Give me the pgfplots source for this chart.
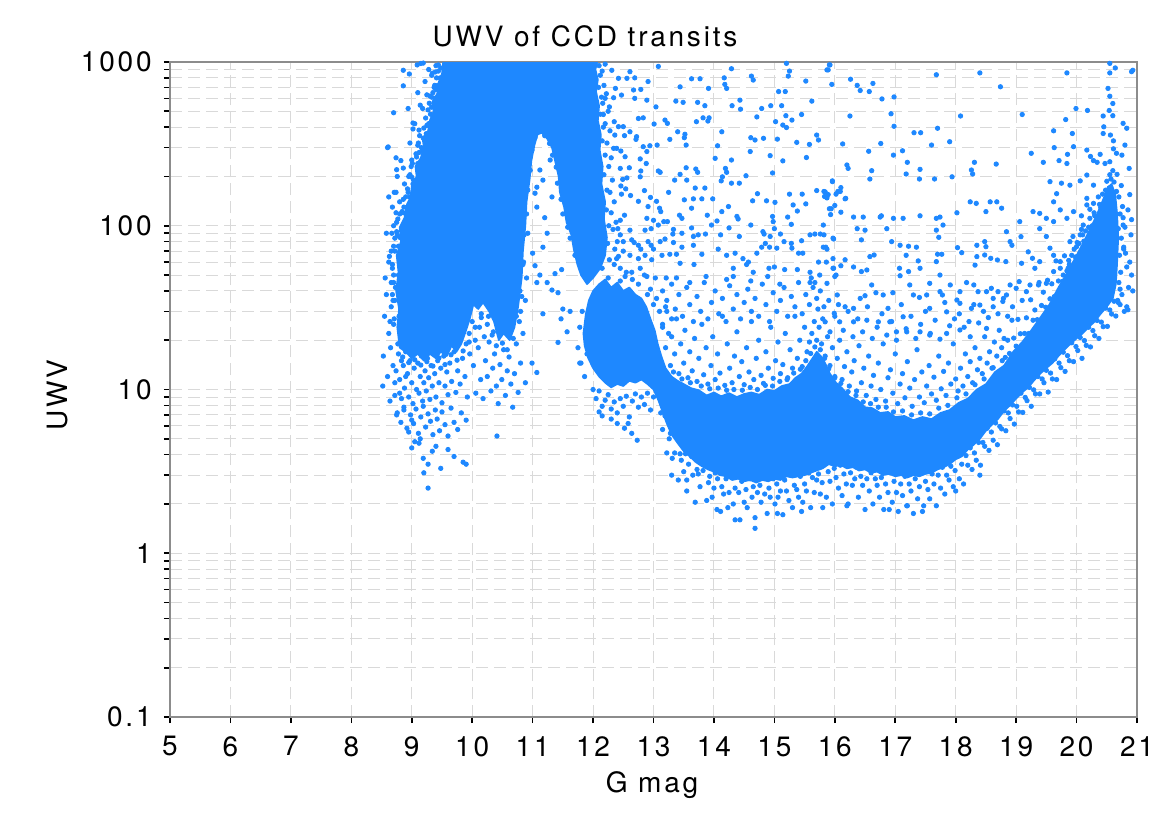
\documentclass[border=0pt]{standalone}
\usepackage{fontspec}
\setmainfont{TeX Gyre Heros}[LetterSpace=10]
\usepackage{pgfplots}
\pgfplotsset{compat=1.18}
\definecolor{ptblue}{RGB}{30,136,255}
\begin{document}
\begin{tikzpicture}
\begin{axis}[
  scale only axis, width=483.5pt, height=327.5pt,
  xmin=5, xmax=21, ymode=log, ymin=0.1, ymax=1000,
  xtick={5,6,7,8,9,10,11,12,13,14,15,16,17,18,19,20,21},
  xticklabels={5,6,7,8,9,10,11,12,13,14,15,16,17,18,19,20,21},
  ytick={0.1,1,10,100,1000}, yticklabels={0.1,1,10,100,1000},
  minor ytick={0.2,0.3,0.4,0.5,0.6,0.7,0.8,0.9,2,3,4,5,6,7,8,9,20,30,40,50,60,70,80,90,200,300,400,500,600,700,800,900},
  grid=both,
  major grid style={gray!30, line width=0.5pt, dash pattern=on 6pt off 3pt},
  minor grid style={gray!30, line width=0.5pt, dash pattern=on 6pt off 3pt},
  axis line style={draw=black!45, line width=0.7pt},
  tick style={black, line width=0.8pt},
  tick align=outside, xtick pos=bottom, ytick pos=left,
  major tick length=3pt, minor tick length=3pt,
  tick label style={font=\fontsize{14}{14}\selectfont, inner sep=0pt},
  xticklabel style={yshift=-6.5pt},
  yticklabel style={xshift=-6pt},
  clip=true,
]
\coordinate (sw) at (rel axis cs:0,0);
\coordinate (ne) at (rel axis cs:1,1);
\coordinate (nw) at (rel axis cs:0,1);
\coordinate (wm) at (rel axis cs:0,0.5);
% dense cores
\addplot[draw=ptblue, line width=0.8pt, line join=round, fill=ptblue] coordinates {
(8.8,18)(8.76,24)(8.79,31)(8.74,40)(8.78,52)(8.75,66)(8.82,80)(8.8,98)(8.88,112)(8.92,135)(8.98,150)(9.0,175)(9.08,200)(9.06,230)(9.15,260)(9.2,300)(9.18,340)(9.27,380)(9.3,440)(9.36,500)(9.34,570)(9.42,640)(9.45,760)(9.5,850)(9.52,1000)
(12.07,1000)(12.04,900)(12.08,780)(12.05,660)(12.1,540)(12.08,440)(12.13,360)(12.11,290)(12.16,230)(12.14,180)(12.2,140)(12.18,110)(12.23,85)(12.2,66)(12.12,55)(12.0,48)(11.9,44)(11.8,50)
(11.74,58)(11.68,72)(11.64,88)(11.56,105)(11.52,130)(11.45,160)(11.43,200)(11.37,250)(11.32,300)(11.24,340)(11.15,370)(11.08,360)(11.03,310)(10.98,250)(10.95,190)(10.9,140)(10.88,100)(10.84,70)(10.82,48)(10.76,32)(10.7,24)(10.62,20)(10.52,22)(10.44,20)(10.36,26)(10.28,30)(10.18,34)(10.1,31)(10.02,33)(9.96,27)(9.9,23)(9.82,19)(9.74,17)(9.66,18.5)(9.58,16)(9.48,17)(9.4,15.5)(9.3,16.5)(9.2,15)(9.1,16.5)(9.0,15.5)(8.9,17)(8.8,18)};
\addplot[draw=ptblue, line width=0.8pt, line join=round, fill=ptblue] coordinates {
(11.84,22)(11.88,29)(11.93,35)(12.0,40)(12.1,44)(12.2,47)(12.3,42)(12.4,45)(12.5,40)(12.6,42)(12.7,38)(12.8,36)(12.88,32)(12.95,27)(13.02,23)(13.07,19)(13.13,16)(13.2,13.5)(13.3,12)(13.4,11.3)(13.5,10.8)(13.62,10.2)(13.75,9.9)(13.88,9.2)(14.0,9.6)(14.12,9.1)(14.25,9.5)(14.38,9.0)(14.5,9.4)(14.62,9.6)(14.75,9.3)(14.88,10)(15.0,9.8)(15.12,10.5)(15.25,10.8)(15.35,11.8)(15.45,12.5)(15.55,14)(15.63,15.5)(15.7,17)(15.77,16)(15.84,14.5)(15.92,12.5)(16.02,11)(16.12,10.2)(16.25,9)(16.38,8.6)(16.5,7.8)(16.62,7.7)(16.75,7.2)(16.88,7.3)(17.0,6.8)(17.15,6.9)(17.3,6.5)(17.45,6.8)(17.6,6.6)(17.75,7.2)(17.9,7.5)(18.05,8.3)(18.2,8.8)(18.35,10)(18.5,10.8)(18.65,12.8)(18.8,14)(18.95,17)(19.1,19.5)(19.25,23)(19.4,27.5)(19.55,33)(19.7,42)(19.85,52)(20.0,66)(20.12,80)(20.25,100)(20.35,120)(20.45,148)(20.52,172)(20.58,180)(20.64,155)(20.67,120)(20.69,85)(20.67,58)(20.65,44)(20.6,36)
(20.5,32)(20.4,29)(20.3,26)(20.2,24)(20.1,22)(20.0,20.5)(19.9,19)(19.8,17.5)(19.7,16)(19.6,14.5)(19.5,13.5)(19.4,12.5)(19.3,11.4)(19.2,10.3)(19.1,9.6)(19.0,8.8)(18.9,8.0)(18.8,7.4)(18.7,6.6)(18.6,6.1)(18.5,5.6)(18.4,5.0)(18.3,4.6)(18.2,4.3)(18.1,3.9)(18.0,3.75)(17.9,3.5)(17.8,3.35)(17.7,3.25)(17.6,3.1)(17.5,3.05)(17.4,2.95)(17.3,3.0)(17.2,2.9)(17.1,3.0)(17.0,2.95)(16.9,3.05)(16.8,3.0)(16.7,3.15)(16.6,3.1)(16.5,3.25)(16.4,3.2)(16.3,3.35)(16.2,3.3)(16.1,3.45)(16.0,3.4)(15.9,3.5)(15.8,3.3)(15.7,3.2)(15.6,3.1)(15.5,3.0)(15.4,2.95)(15.3,2.9)(15.2,2.95)(15.1,2.8)(15.0,2.85)(14.9,2.75)(14.8,2.8)(14.7,2.7)(14.6,2.8)(14.5,2.75)(14.4,2.85)(14.3,2.8)(14.2,2.95)(14.1,3.0)(14.0,3.15)(13.9,3.25)(13.8,3.4)(13.7,3.6)(13.6,3.9)(13.5,4.2)(13.4,4.7)(13.3,5.3)(13.22,6.2)(13.15,7.3)(13.08,8.6)(13.0,10)(12.9,10.8)(12.8,11.5)(12.7,11)(12.6,11.3)(12.5,10.5)(12.4,10.8)(12.3,10.3)(12.2,11)(12.1,12)(12.0,13.5)(11.92,15.5)(11.86,18.5)(11.84,22)};
% individual transits
\addplot[only marks, mark=*, mark size=1.1pt, color=ptblue, mark options={draw=ptblue, fill=ptblue}] coordinates {
(8.52,10.5)(8.53,16)(8.55,28)(8.56,48)(8.58,38)(8.6,300)(8.6,12)(8.62,22)(8.63,65)(8.64,8.5)(8.65,18)(8.66,32)(8.67,90)(8.68,55)(8.69,14)(8.7,490)(8.7,25)(8.71,160)(8.72,11)(8.73,42)(8.74,120)(8.75,7)(8.76,200)(8.77,19)(8.78,75)(8.79,28)(8.8,140)(8.8,9.5)(8.82,250)(8.83,15)(8.84,35)(8.85,60)(8.86,890)(8.87,7.5)(8.88,180)(8.89,22)(8.9,100)(8.9,12)(8.92,45)(8.94,520)(8.95,5.5)(8.96,845)(8.97,320)(8.98,17)(8.99,230)(9.0,6.5)(9.0,70)
(8.71,27)(8.69,35)(8.7,50)(8.68,58)(8.72,84)(8.75,92)(8.77,110)(8.84,122)(8.86,145)(8.93,168)(8.97,205)(9.01,240)(9.07,275)(9.11,320)(9.13,355)(9.2,395)(9.23,455)(9.27,510)(9.29,560)(9.35,650)(9.37,700)(9.41,800)(9.44,960)(9.39,870)(9.33,610)(9.16,300)(8.9,150)(8.8,118)(8.66,70)(8.7,100)
(9.05,420)(9.1,650)(9.12,280)(9.15,980)(9.18,520)(9.22,760)(9.25,410)(9.28,900)(9.3,620)(9.33,830)(9.38,720)(9.4,950)(9.44,880)(9.1,310)(8.95,200)(9.02,180)(8.86,715)(9.02,424)(9.02,390)(9.14,545)(9.25,630)(9.19,985)(9.09,960)(9.34,855)(8.61,303)(8.74,260)(8.75,220)(8.86,225)(9.0,252)(9.08,263)(9.0,198)(9.14,220)(9.12,384)(9.19,343)(9.27,303)
(9.03,190)(9.1,240)(9.13,215)(9.17,285)(9.22,330)(9.24,365)(9.28,420)(9.31,480)(9.33,530)(9.38,600)(9.4,680)(9.43,720)(9.47,800)(9.48,920)(8.85,95)(8.86,120)(8.94,160)(8.96,128)(8.7,45)(8.72,70)(8.68,38)(8.76,88)
(8.62,60)(8.66,45)(8.7,75)(8.72,35)(8.75,105)(8.78,50)(8.8,85)(8.82,28)(8.85,40)(8.87,130)(8.9,65)(8.92,30)(8.95,90)(8.97,150)(8.99,42)(8.64,26)(8.68,130)(8.74,160)(8.58,90)(8.62,150)
(8.72,9.2)(8.74,13)(8.78,16.5)(8.8,11.5)(8.83,8.8)(8.86,14)(8.88,10.2)(8.9,17)(8.93,12.5)(8.95,9)(8.97,15)(9.0,11)(9.02,8.2)(9.04,13.5)(9.06,17.5)(9.08,10)(9.1,14.5)(9.12,9.5)(9.14,12)(9.16,16)(9.18,8.5)(9.2,11)(9.22,13)(9.24,9.8)(9.26,15.5)(9.28,11.8)(9.3,8.7)(9.32,14)(9.34,10.5)(9.36,17)(9.38,12.5)(9.4,9)(9.43,15)(9.45,11)(9.48,13.5)(9.5,8.3)(9.53,16)(9.55,10.5)(9.58,12.8)(9.6,9.3)(9.63,14.5)(9.66,11.2)(9.7,17)(9.73,9.6)(9.76,13)(9.8,10.8)(9.84,15.5)(9.88,12)(9.92,9)(9.96,16.5)
(8.85,15.8)(8.95,14.6)(9.05,15.2)(9.15,14.1)(9.25,14.8)(9.35,13.9)(9.45,15.6)(9.55,14.2)(9.65,16.3)(9.75,15.1)(9.85,17.2)(9.95,19.5)(10.05,24)(10.15,27.5)(10.25,25)(10.33,21.5)(10.4,18.5)(10.5,19.2)(10.58,17.5)(10.68,20.5)(10.78,26)(10.82,37)
(8.76,7.2)(8.82,6.3)(8.87,7.8)(8.92,5.8)(8.98,7)(9.03,6.2)(9.07,7.6)(9.11,5.4)(9.15,6.8)(9.19,7.9)(9.23,5.9)(9.27,7.1)(9.31,6.4)(9.35,5.3)(9.39,7.5)(9.42,6.6)(9.46,5.6)(9.5,7.3)(9.55,6.1)(9.6,5.2)(9.65,7.7)(9.7,6.3)(9.76,5.7)(9.82,7.2)(9.9,6.5)
(9.0,4.4)(9.14,5.0)(9.12,4.7)(9.19,3.8)(9.27,3.5)(9.2,3.1)(9.48,3.3)(9.27,2.5)(9.85,3.6)(9.9,3.5)(10.41,5.2)(9.34,4.2)(9.05,4.8)(9.4,4.5)(9.6,4.3)(9.7,3.9)
(10.02,14)(10.06,9.5)(10.1,18)(10.14,11.5)(10.18,8.8)(10.22,15)(10.25,12)(10.28,19.5)(10.31,9.8)(10.34,13.5)(10.37,16.5)(10.4,10.5)(10.43,8.2)(10.46,14.2)(10.49,11.5)(10.52,17.5)(10.55,9.2)(10.58,13)(10.61,15.8)(10.64,10.8)(10.67,7.8)(10.7,12.5)(10.73,19)(10.76,9.6)(10.8,14.5)(10.84,22)(10.88,11)
(9.95,22)(10.0,26)(10.05,20)(10.12,24)(10.2,21)(10.27,28)(10.35,22.5)(10.42,25)(9.9,19)(10.15,29)(10.85,60)(10.88,35)(10.92,90)(10.8,30)(10.9,48)
(11.7,66)(11.62,84)(11.58,98)(11.5,118)(11.47,145)(11.41,182)(11.39,228)(11.33,270)(11.28,318)(11.2,355)(11.1,395)(11.04,345)(10.99,290)(10.96,218)(10.92,165)(10.9,118)(10.86,88)(10.84,58)(10.79,40)(10.73,28)
(11.04,57)(11.17,29)(10.99,14.5)(11.07,12.7)(11.32,40.5)(11.42,19.4)(11.47,27)(11.57,22.5)(11.37,51)(11.48,54)(11.62,30)(11.24,45)(11.12,50)(11.07,45)(11.42,39)(11.5,31)(11.78,14.5)
(11.07,172)(11.12,219)(11.2,112)(11.24,90)(11.04,158)(11.32,150)(11.07,130)(11.17,190)(11.0,68)(11.17,74)(11.29,252)(11.37,300)
(12.1,950)(12.12,830)(12.09,700)(12.14,610)(12.12,480)(12.17,400)(12.15,330)(12.2,270)(12.18,205)(12.23,165)(12.22,125)(12.26,100)(12.24,78)(12.27,62)
(12.2,970)(12.31,890)(12.61,873)(13.08,940)(14.29,910)(14.62,820)(14.65,776)(15.2,981)(15.25,880)(15.23,820)(15.92,960)(15.89,895)(15.95,730)(12.42,795)(12.56,795)(12.69,800)(12.91,760)(13.63,790)(13.77,790)(13.91,690)(13.44,705)(14.17,800)(14.21,690)(14.18,730)(12.37,690)(12.47,628)(12.67,675)(12.79,680)(12.2,600)(12.34,605)(12.69,600)(12.89,585)(13.37,577)(13.49,567)(13.73,567)(13.85,541)(14.3,541)(14.43,585)(14.44,515)(14.79,520)(14.94,541)(15.12,541)(15.07,660)(15.18,660)(15.52,765)(15.62,577)(13.04,532)(12.17,478)(12.27,532)(12.75,452)(12.83,456)(13.19,442)(13.23,422)(13.01,418)(13.71,432)(13.82,456)(13.92,456)(13.9,436)(14.13,375)(14.71,462)(15.02,432)(15.19,470)(15.29,442)(15.14,412)(15.2,398)(15.45,478)
(12.35,432)(12.42,403)(12.5,403)(12.61,375)(12.36,358)(12.52,355)(12.72,350)(12.71,337)(12.83,304)(12.94,308)(13.06,311)(13.27,337)(13.4,375)(13.52,362)(13.51,345)(13.54,311)(14.06,308)(14.61,345)(14.68,334)(14.82,342)(15.05,338)(15.37,323)(15.58,314)(15.7,358)(15.73,334)(12.34,297)(12.39,297)(12.46,286)(12.53,264)(12.78,256)(12.89,284)(12.88,240)(14.02,258)(14.29,252)(14.6,284)(14.93,268)(15.14,249)(15.53,261)(16.09,162)(12.45,224)(12.6,226)(12.79,216)(12.78,199)(13.08,216)(13.11,212)(13.44,206)(13.54,226)(13.7,222)(13.73,212)(13.35,190)(13.55,190)(14.19,224)(14.21,212)(14.14,199)(14.12,188)(14.29,182)(14.42,182)(14.53,202)(14.97,210)(15.96,188)
(12.49,192)(12.56,196)(12.46,175)(12.54,168)(12.62,153)(12.85,164)(12.75,141)(12.47,156)(13.25,160)(13.05,141)(12.95,149)(13.51,144)(13.66,146)(13.8,146)(13.98,146)(13.69,170)(13.85,170)(14.72,157)(14.64,142)(14.87,142)(15.01,139)(15.25,156)(15.46,156)(15.31,134)(15.52,136)(15.7,164)(15.84,161)(15.83,151)(15.87,148)(15.91,127)(16.05,162)(12.91,131)(13.1,128)(13.12,122)(12.89,111)(13.0,108)(13.17,106)(13.23,106)(13.43,116)(13.47,111)(13.63,128)(13.89,116)(14.05,107)(14.13,122)(14.24,131)(14.38,114)(14.4,110)(14.61,101)(14.97,114)(14.98,106)(15.0,96)(15.22,113)(15.28,102)(15.38,123)(15.94,127)
(12.52,116)(12.45,108)(12.41,96)(12.61,94)(12.86,94)(13.08,101)(12.96,96)(13.33,95)(13.32,89)(13.47,90)(13.63,97)(13.66,86)(13.74,88)(13.86,89)(13.96,101)(14.11,88)(14.25,97)(14.42,86)(14.81,92)(14.83,89)(14.93,86)(15.1,89)(15.16,80)(15.28,78)(15.59,88)(15.67,89)(15.76,89)(15.98,83)(15.45,81)(12.5,80)(12.64,82)(12.68,79)(12.75,76)(12.79,72)(12.91,80)(12.96,76)(13.0,72)(13.11,80)(13.19,83)(13.33,79)(13.47,74)(13.66,76)(13.8,67)(14.07,72)(14.35,68)(14.48,63)(14.57,60)(14.65,52)(14.71,68)(14.79,74)(14.85,78)(14.92,74)(15.04,73)(15.29,73)(15.4,68)(15.47,68)(15.81,74)(15.87,72)(15.97,63)
(12.39,63)(12.61,66)(12.75,63)(12.86,66)(12.97,62)(13.14,66)(13.27,67)(13.38,67)(13.44,59)(13.67,58)(14.21,66)(14.32,55)(14.54,58)(14.91,55)(15.0,56)(15.17,54)(15.38,54)(15.59,52)(15.61,48)(15.73,60)(15.98,55)(16.0,49)(12.45,55)(12.53,49)(12.64,52)(12.78,55)(12.89,49)(13.03,48)(13.21,48)(13.38,48)(13.6,45)(13.87,49)(14.21,47)(14.32,49)(14.61,46)(14.89,49)(15.09,44)(15.59,45)(15.67,45)
(12.15,880)(12.18,720)(12.22,640)(12.16,560)(12.25,500)(12.2,420)(12.28,380)(12.23,320)(12.3,260)(12.26,230)(12.32,190)(12.28,160)(12.35,140)(12.3,120)(12.38,105)(12.33,95)(12.4,80)(12.36,72)(12.42,65)(12.45,88)(12.5,70)
(15.91,960)(15.87,895)(16.26,785)(16.37,720)(16.42,670)(16.57,660)(16.63,740)(16.78,595)(16.98,612)(16.93,483)(16.25,468)(16.98,405)(16.13,316)(16.56,285)(16.76,318)(16.97,270)(17.12,287)(17.2,244)(17.31,370)(17.42,370)(17.7,394)(17.6,311)(17.9,326)(17.68,836)(18.4,858)(18.74,706)(18.08,468)(19.1,478)(19.84,858)(19.99,520)(20.18,506)(19.82,445)(19.62,380)(19.93,366)(19.95,304)(19.63,300)(19.85,273)(19.71,250)(19.84,240)(19.45,244)(19.25,277)(18.67,238)(18.31,244)(18.26,219)(18.28,207)(17.94,199)(17.65,193)(17.4,193)(17.41,221)(17.18,207)(16.61,217)(16.58,193)(16.2,235)(16.22,224)(15.82,162)(15.89,155)(15.96,186)(16.1,171)(16.17,146)(16.0,133)(16.02,156)
(20.55,981)(20.64,920)(20.91,873)(20.55,858)(20.52,690)(20.55,618)(20.6,558)(20.54,506)(20.6,470)(20.44,468)(20.45,402)(20.44,366)(20.56,358)(20.61,330)(20.77,422)(20.83,394)(20.61,295)(20.8,311)(20.75,270)(20.66,277)(20.55,246)(20.47,240)(20.39,273)(20.34,244)(20.28,250)(20.23,265)(20.87,224)(20.67,206)(20.17,290)(20.88,155)(20.77,101)(20.91,109)(20.78,72)(20.91,50)(20.83,32)(20.72,41)(20.69,34)(20.85,30.7)(20.93,890)
(15.81,101)(15.82,88)(15.85,74)(15.97,84)(15.86,60)(15.75,50)(15.97,55)(16.02,50)(15.87,44.5)(16.1,57)(16.17,62)(16.31,56)(16.44,52.5)(16.53,53.7)(16.58,64.8)(16.65,66.3)(16.5,94)(16.37,96)(16.44,82)(16.31,113)(16.18,147)(16.1,121)(15.93,117)(16.77,115)(16.86,96)(16.94,80)(17.08,76)(17.07,55)(17.08,49.5)(16.96,39)(16.88,31.3)(16.8,37.8)(16.61,43.5)(16.68,39)(16.5,37.4)(16.42,36)(16.31,31.3)(16.17,32)(16.04,37.8)(15.99,29.2)(16.08,25.9)(15.84,25.9)(15.92,22.5)(16.31,25.9)(16.53,26.5)(16.72,25.9)(16.91,25.9)(17.13,27.8)
(17.24,43.5)(17.3,37.8)(17.4,36.5)(17.52,37.8)(17.74,39.6)(17.78,37.8)(17.91,43.5)(18.02,35.2)(18.07,39.6)(18.18,45)(18.3,43.5)(18.37,39.6)(18.51,39.6)(18.59,41.5)(18.7,39.6)(18.9,43.5)(19.05,45.6)(19.23,43.5)(19.37,43.5)(19.5,44.5)(17.74,50)(17.57,44.5)(17.41,55)(17.22,52.5)(17.18,66)(17.22,75)(17.35,74)(17.38,61)(17.68,94)(17.72,85)(17.7,67)(17.68,60.4)(17.77,67)(18.03,73.5)(18.1,68.5)(18.35,76)(18.48,80)(18.5,74.5)(18.48,66.3)(18.35,64.8)(18.32,57.5)(18.58,63.3)(18.69,61.8)(18.83,60.4)(18.9,80)(19.08,85.8)(19.2,69.3)(19.27,63.3)(19.31,55)(19.39,60.4)(19.09,59)
(17.68,111)(17.79,101)(17.74,113)(17.41,115)(17.13,111)(16.97,111)(16.75,113)(16.47,113)(18.02,120)(18.24,140)(18.34,137)(18.5,122)(18.57,140)(18.68,140)(18.76,128)(18.84,92)(18.93,76)(19.06,106)(19.28,122)(19.39,119)(19.5,111)(19.62,106)(19.73,125)(19.84,111)(19.95,122)(20.08,115)(19.62,140)(19.67,157)(19.56,186)(19.75,182)(19.89,177)(20.06,188)(20.17,204)(20.28,177)(19.39,96)(19.5,86)(19.56,73)(19.62,66)(19.73,60.4)(19.62,52.5)(19.89,80)(20.0,74.5)(20.06,88)(20.11,101)(20.22,111)(20.33,106)(20.39,122)(20.17,147)(20.17,134)(20.28,137)(19.92,66)(19.86,55)(20.03,52.5)
(17.57,31.3)(17.85,29.8)(18.07,33.6)(18.26,31.3)(18.4,32.8)(18.62,36)(18.79,36)(18.84,37.8)(19.0,41.5)(19.17,39.6)(17.02,22.5)(17.19,22.5)(17.41,22.5)(17.57,21.5)(17.85,22)(18.07,23.1)(18.24,21)(18.51,23.6)
(13.15,24)(13.2,18)(13.22,30)(13.28,14)(13.3,21)(13.35,16.5)(13.38,27)(13.42,12.5)(13.45,19)(13.5,14.5)(13.52,23)(13.57,11.8)(13.6,17)(13.64,13)(13.68,20.5)(13.72,11.2)(13.75,15.5)(13.8,25)(13.83,12.3)(13.87,18)(13.9,10.8)(13.95,14)(13.98,21)(14.02,11.5)(14.06,16.5)(14.1,12.6)(14.14,28)(14.18,10.6)(14.22,19)(14.26,13.5)(14.3,11)(14.34,16)(14.38,22.5)(14.42,12)(14.46,14.8)(14.5,10.7)(14.54,18)(14.58,12.8)(14.62,26)(14.66,11.5)(14.7,15.5)(14.74,20)(14.78,12.2)(14.82,10.9)(14.86,17)(14.9,13.5)(14.94,24)(14.98,11.7)(15.02,15)(15.06,19.5)(15.1,12.5)(15.14,14.2)(15.18,22)(15.22,11.8)(15.26,17.5)(15.3,13.5)(15.34,28)(15.38,15.5)(15.42,20)(15.46,13.8)(15.5,24)(15.54,17)(15.58,19.5)(15.62,22)(15.66,26)(15.7,20)(15.72,31)(15.74,24)(15.78,19)(15.8,27)
(13.33,12.8)(13.47,11.6)(13.61,11.0)(13.79,10.5)(13.93,10.1)(14.07,10.2)(14.21,9.9)(14.33,10.0)(14.47,9.9)(14.6,10.3)(14.72,10.0)(14.85,10.6)(14.97,10.5)(15.09,11.2)(15.21,11.5)(15.32,12.6)(15.43,13.3)(15.52,15.0)(15.6,16.6)(15.67,18.2)(15.76,17.5)(15.83,15.5)(15.9,13.4)(16.0,11.8)(16.1,10.9)(16.22,9.7)(16.35,9.2)(16.47,8.4)(16.59,8.2)(16.72,7.8)(16.85,7.8)(16.97,7.3)(17.12,7.4)(17.27,7.0)(17.42,7.2)(17.57,7.1)(17.72,7.7)(17.87,8.0)(18.02,8.9)(18.17,9.4)(18.32,10.7)(18.47,11.6)(18.62,13.6)(18.77,15.0)
(15.84,16)(15.88,21)(15.92,14)(15.96,18)(16.0,12)(16.04,15.5)(16.08,20)(16.12,11.5)(16.16,13.8)(16.2,17)(16.24,10.5)(16.28,12.8)(16.32,15)(16.36,9.8)(16.4,18.5)(16.44,11)(16.48,13.5)(16.52,9.2)(16.56,16)(16.6,10.5)(16.64,12.2)(16.68,8.7)(16.72,14.5)(16.76,10)(16.8,19)(16.84,8.5)(16.88,11.8)(16.92,13.2)(16.96,9.5)(17.0,16.5)(17.04,8.2)(17.08,10.8)(17.12,12.5)(17.16,8.9)(17.2,14.8)(17.24,10.2)(17.28,7.9)(17.32,11.5)(17.36,17.5)(17.4,9)(17.44,12.8)(17.48,8.3)(17.52,10.5)(17.56,14)(17.6,9.4)(17.64,11.9)(17.68,8.6)(17.72,16)(17.76,10.1)(17.8,12.9)(17.84,9.2)(17.88,14.5)(17.92,10.8)(17.96,19)(18.0,11.6)(18.04,9.8)(18.08,13.5)(18.12,10.5)(18.16,16.5)(18.2,12)(18.24,14.8)(18.28,11)(18.32,18)(18.36,13.2)(18.4,15.5)(18.44,12.5)(18.48,21)(18.52,14.5)(18.56,17)(18.6,13.5)(18.64,19.5)(18.68,16)(18.72,23)(18.76,18)(18.8,20.5)
(15.9,35)(16.0,28)(16.06,33)(16.14,23)(16.22,30)(16.3,21)(16.38,27)(16.46,22.5)(16.54,32)(16.62,20.5)(16.7,24)(16.78,29)(16.86,21.5)(16.94,26)(17.02,20)(17.1,33)(17.18,23.5)(17.26,28)(17.34,20.5)(17.42,25)(17.5,30)(17.58,22)(17.66,26.5)(17.74,20.3)(17.82,34)(17.9,24.5)(17.98,27)(18.06,29)(18.14,24)(18.22,26)(18.3,33)(18.38,25.5)(18.46,30)(18.54,27.5)(18.62,32)(18.7,29)(18.78,34.5)(18.86,28)(18.94,32)
(13.12,7.2)(13.15,5.7)(13.19,6.9)(13.22,4.1)(13.26,5.0)(13.28,5.4)(13.31,3.8)(13.35,4.1)(13.37,5.3)(13.41,2.8)(13.44,4.05)(13.46,3.7)(13.5,3.15)(13.53,4.05)(13.55,2.8)(13.58,3.5)(13.63,3.9)(13.65,3.0)(13.69,2.05)(13.72,3.25)(13.74,3.05)(13.77,2.55)(13.82,3.2)(13.84,3.5)(13.88,2.1)(13.91,2.7)(13.93,2.95)(13.97,2.2)(14.0,2.5)(14.02,3.1)(14.06,2.85)(14.11,1.8)(14.13,2.55)(14.16,2.3)(14.2,2.85)(14.23,1.9)(14.25,2.35)(14.29,2.95)(14.32,2.0)(14.35,2.5)(14.41,2.35)(14.43,1.6)(14.46,2.75)(14.5,2.05)(14.53,2.45)(14.55,1.9)(14.6,2.85)(14.63,2.2)(14.65,2.55)(14.68,1.65)(14.72,2.35)(14.76,2.6)(14.78,2.05)(14.81,2.95)(14.84,2.3)(14.88,1.75)(14.91,2.5)(14.93,2.2)(14.98,2.85)
(15.01,2.0)(15.04,2.65)(15.06,2.2)(15.1,2.4)(15.14,1.72)(15.17,2.8)(15.2,2.4)(15.24,2.1)(15.27,3.05)(15.3,1.9)(15.33,2.6)(15.37,2.45)(15.4,2.2)(15.43,2.95)(15.47,2.05)(15.5,2.65)(15.53,2.4)(15.57,3.1)(15.6,1.9)(15.63,2.9)(15.66,2.35)(15.7,2.8)(15.73,3.05)(15.76,2.3)(15.79,2.7)(15.83,3.5)(15.86,2.2)(15.89,3.15)(15.92,2.75)(15.96,2.0)(15.99,3.3)
(16.02,2.9)(16.06,2.5)(16.09,3.45)(16.12,2.25)(16.15,3.05)(16.19,2.65)(16.22,2.0)(16.26,3.1)(16.29,2.6)(16.33,2.85)(16.36,3.35)(16.39,2.2)(16.43,2.95)(16.46,2.6)(16.5,1.85)(16.53,2.85)(16.57,2.4)(16.6,3.1)(16.63,2.0)(16.67,2.85)(16.7,2.6)(16.74,2.2)(16.77,2.9)(16.81,1.85)(16.84,2.65)(16.88,2.35)(16.91,3.1)(16.95,2.05)(16.98,2.75)
(17.02,2.35)(17.05,1.8)(17.09,2.65)(17.12,2.25)(17.16,2.95)(17.19,1.95)(17.23,2.65)(17.26,2.4)(17.3,1.75)(17.33,2.85)(17.37,2.15)(17.4,2.55)(17.44,3.1)(17.47,1.95)(17.5,2.75)(17.54,2.45)(17.57,2.15)(17.61,3.05)(17.64,2.65)(17.68,1.95)(17.71,3.0)(17.75,2.5)(17.78,3.35)(17.82,2.3)(17.85,3.0)(17.89,2.8)(17.92,3.4)(17.96,2.55)(17.99,3.2)
(18.03,3.9)(18.06,2.85)(18.1,3.5)(18.13,2.65)(18.17,3.95)(18.2,3.45)(18.24,4.4)(18.27,3.25)(18.31,4.1)(18.34,3.7)(18.38,4.75)(18.41,3.45)(18.45,4.75)(18.48,4.5)(18.52,5.8)(18.55,4.25)(18.59,5.5)(18.62,4.9)(18.66,6.25)(18.69,4.6)(18.73,5.95)(18.76,5.75)(18.8,7.4)(18.83,5.6)(18.87,7.2)(18.9,6.65)(18.94,8.05)(18.97,6.15)
(19.01,7.9)(19.04,7.3)(19.08,9.5)(19.11,7.25)(19.15,8.95)(19.18,8.55)(19.22,10.3)(19.25,7.9)(19.29,9.95)(19.32,9.4)(19.36,12.0)(19.39,9.4)(19.43,11.6)(19.46,11.0)(19.5,13.1)(19.53,9.65)(19.57,12.6)(19.6,11.6)(19.64,15.4)(19.67,11.5)(19.71,14.5)(19.74,13.6)(19.78,16.9)(19.81,12.9)(19.85,16.1)(19.88,15.0)(19.92,19.3)(19.95,14.8)(19.99,18.3)
(20.02,17.3)(20.06,20.8)(20.09,15.5)(20.13,19.9)(20.16,18.6)(20.2,24)(20.23,18.2)(20.27,22.9)(20.3,21.3)(20.34,26.4)(20.37,20.5)(20.41,25.8)(20.44,24.2)(20.48,31.4)(20.51,24.3)(20.55,30.6)(20.58,28.9)(20.62,34.6)(20.65,28.1)(20.68,35)
(14.68,1.42)(14.35,1.6)(14.05,1.85)(15.05,1.75)(15.45,1.8)(15.8,1.9)(16.9,1.85)(17.45,1.8)(17.2,1.95)(16.2,1.95)(18.0,2.4)(18.4,3.0)(13.55,2.4)(13.3,3.0)(12.73,4.9)(12.64,5.4)
(18.82,15.7)(18.86,20)(18.89,16.6)(18.93,26.5)(18.96,20.6)(19.0,18.4)(19.03,26.8)(19.07,21.9)(19.1,35)(19.14,22)(19.17,27.4)(19.21,22)(19.24,35.3)(19.28,26.5)(19.31,30.6)(19.35,26.7)(19.38,45)(19.42,32.6)(19.45,39.3)(19.49,31.8)(19.52,46.5)(19.56,35.8)(19.59,44.2)(19.63,36.9)(19.66,61)(19.7,46)(19.73,55)(19.77,45.8)(19.8,65.5)(19.84,53)(19.87,61.4)(19.91,52.8)(19.94,86)(19.98,64.5)(20.01,79)(20.05,66.6)(20.08,95)(20.12,80.5)(20.15,93)(20.19,82)(20.22,126)(20.26,100)(20.29,120)(20.33,106)(20.36,150)(20.4,129)(20.43,156)(20.47,143)(20.5,187)(20.54,170)(20.57,193)(20.6,217)(20.63,160)(20.66,162)
(19.96,72)(20.04,78)(20.1,88)(20.2,98)(20.3,115)(20.38,135)(20.48,165)(20.55,205)(20.62,185)(19.78,50)(19.88,58)
(20.7,150)(20.72,118)(20.69,96)(20.74,84)(20.71,66)(20.76,131)(20.73,52)(20.78,74)(20.7,45)(20.8,98)(20.75,38)(20.83,56)(20.77,112)(20.86,42)(20.81,68)(20.9,88)(20.72,33)(20.85,125)(20.79,30)(20.88,60)(20.74,176)(20.93,40)
(11.75,18)(11.78,24)(11.8,14.5)(11.82,30)(11.86,12)(11.9,16.5)(12.0,10)(12.05,8.8)(12.1,9.8)(12.15,7.9)(12.2,8.6)(12.25,9.3)(12.3,7.6)(12.35,8.4)(12.4,7.2)(12.45,8.8)(12.5,7.9)(12.55,9.1)(12.6,6.8)(12.65,8.5)(12.7,9.4)(12.75,7.8)(12.8,9.0)(12.85,8.1)(12.9,9.5)(12.95,7.5)(13.0,9.0)(12.4,6.2)(12.52,5.8)(12.3,6.6)(12.15,6.9)(12.1,7.3)(12.58,6.2)
(12.0,52)(12.15,55)(12.25,48)(12.35,58)(12.45,46)(12.55,52)(12.65,47)(12.75,44)(12.85,50)(12.95,41)(13.05,36)(13.1,30)(13.15,25)(13.2,32)(13.25,22)(13.3,27)(12.9,38)(13.0,33)
(13.15,40)(13.22,35)(13.3,44)(13.36,31)(13.42,38)(13.48,28)(13.55,42)(13.6,33)(13.66,26)(13.72,37)(13.78,30)(13.84,45)(13.9,27)(13.96,34)(14.02,40)(14.08,29)(14.14,36)(14.2,26)(14.26,43)(14.32,31)(14.38,38)(14.44,27)(14.5,34)(14.56,41)(14.62,30)(14.68,36)(14.74,28)(14.8,44)(14.86,33)(14.92,26)(14.98,39)(15.04,30)(15.1,35)(15.16,42)(15.22,28)(15.28,37)(15.34,32)(15.4,45)(15.46,29)(15.52,38)(15.58,33)(15.64,42)(15.7,36)(15.76,40)(15.82,32)
};
\end{axis}
\node[anchor=base, font=\fontsize{14}{14}\selectfont] at ([xshift=207.5pt,yshift=7.5pt]nw) {UWV of CCD transits};
\node[anchor=base, font=\fontsize{14}{14}\selectfont] at ([xshift=241pt,yshift=-37.5pt]sw) {G mag};
\node[anchor=base, rotate=90, font=\fontsize{14}{14}\selectfont] at ([xshift=-51pt,yshift=-2.75pt]wm) {UWV};
\pgfresetboundingbox
\path ([xshift=-85pt,yshift=-55pt]sw) rectangle ([xshift=16.5pt,yshift=31pt]ne);
\end{tikzpicture}
\end{document}
